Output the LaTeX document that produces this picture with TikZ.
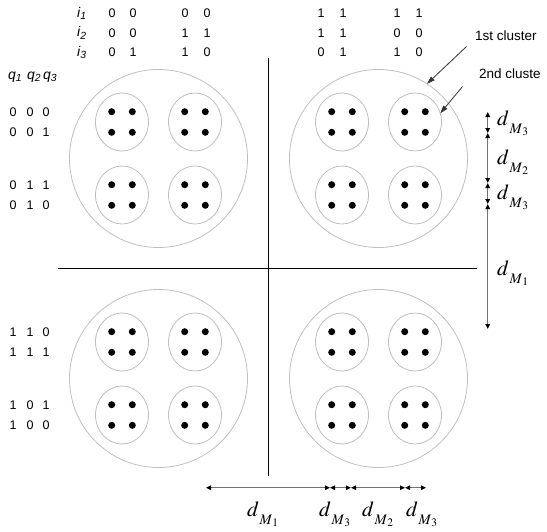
\documentclass[tikz,border=0pt]{standalone}
\usepackage{mathptmx}
\usepackage[no-math]{fontspec}
\setmainfont{Liberation Sans}
\usetikzlibrary{arrows.meta,shapes.geometric}
\newcommand\dlab[1]{$d$\kern0.5pt\raisebox{-8pt}{\fontsize{14.5}{15}\selectfont$M$}\kern0.2pt\raisebox{-10.5pt}{\fontsize{11.5}{12}\selectfont$#1$}}
\tikzset{
  bigc/.style={circle,draw=black!25,line width=0.8pt,minimum size=178pt,inner sep=0pt,outer sep=0pt},
  smallc/.style={ellipse,draw=black!25,line width=0.8pt,minimum width=53pt,minimum height=58pt,inner sep=0pt,outer sep=0pt},
  axis/.style={draw=black,line width=0.9pt},
  dimline/.style={draw=black!55,line width=1.3pt,{Triangle[length=5pt,width=4.5pt,color=black]}-{Triangle[length=5pt,width=4.5pt,color=black]}},
  callout/.style={draw=black!80,line width=0.8pt,-{Triangle[length=8pt,width=5pt]}},
  digit/.style={inner sep=0pt,font=\fontsize{12.5}{14}\selectfont},
  varlab/.style={inner sep=0pt,anchor=west,font=\fontsize{14}{16}\selectfont\itshape},
  dimlab/.style={inner sep=0pt,anchor=base west,font=\fontsize{21.5}{24}\selectfont},
  calltext/.style={inner sep=0pt,anchor=west,font=\fontsize{13.5}{16}\selectfont}
}
\begin{document}
\begin{tikzpicture}[x=1pt,y=-1pt]
\useasboundingbox (0,0) rectangle (547,531);
% clusters
\foreach \qx/\qy [count=\q] in {158.5/158.5, 378.5/158.5, 158.5/378.5, 378.5/378.5} {
  \node[bigc] (Q\q) at (\qx,\qy) {};
  \foreach \dx/\dy [count=\k] in {-36.5/-36.5, 36.5/-36.5, -36.5/36.5, 36.5/36.5} {
    \node[smallc] (Q\q-\k) at (\qx+\dx,\qy+\dy) {};
    \foreach \ex in {-10.3,10.3} {
      \foreach \ey in {-10.3,10.3} {
        \fill[black] (\qx+\dx+\ex,\qy+\dy+\ey) circle (3.5);
      }
    }
  }
}
% axes
\coordinate (ht) at (268,58);
\coordinate (hb) at (268,476);
\coordinate (vl) at (58,268);
\coordinate (vr) at (477,268);
\draw[axis] (ht) -- (hb);
\draw[axis] (vl) -- (vr);
% right dimension arrows
\coordinate (r0) at (487.7,112);
\coordinate (r1) at (487.7,133);
\coordinate (r2) at (487.7,183);
\coordinate (r3) at (487.7,204);
\coordinate (r4) at (487.7,329);
\draw[dimline] (r0) -- (r1);
\draw[dimline] (r1) -- (r2);
\draw[dimline] (r2) -- (r3);
\draw[dimline] (r3) -- (r4);
% bottom dimension arrows
\coordinate (b0) at (206,487.7);
\coordinate (b1) at (330,487.7);
\coordinate (b2) at (351,487.7);
\coordinate (b3) at (405,487.7);
\coordinate (b4) at (426,487.7);
\draw[dimline] (b0) -- (b1);
\draw[dimline] (b1) -- (b2);
\draw[dimline] (b2) -- (b3);
\draw[dimline] (b3) -- (b4);
% dimension labels
\node[dimlab] (lr1) at (497,125) {\dlab{3}};
\node[dimlab] (lr2) at (497,164) {\dlab{2}};
\node[dimlab] (lr3) at (497,199) {\dlab{3}};
\node[dimlab] (lr4) at (497,275) {\dlab{1}};
\node[dimlab] (lb1) at (247,516) {\dlab{1}};
\node[dimlab] (lb2) at (319,516) {\dlab{3}};
\node[dimlab] (lb3) at (362,516) {\dlab{2}};
\node[dimlab] (lb4) at (406,516) {\dlab{3}};
% top labels
\node[varlab] (i1) at (77,13.5) {i\textsubscript{1}};
\node[varlab] (i2) at (77,33) {i\textsubscript{2}};
\node[varlab] (i3) at (77,52.5) {i\textsubscript{3}};
\foreach \cx/\a/\b/\c [count=\n] in {112/0/0/0, 133/0/0/1, 185/0/1/1, 207/0/1/0, 321/1/1/0, 343/1/1/1, 397/1/0/1, 419/1/0/0} {
  \node[digit] (ta\n) at (\cx,13.5) {\a};
  \node[digit] (tb\n) at (\cx,33) {\b};
  \node[digit] (tc\n) at (\cx,52.5) {\c};
}
% left labels
\node[varlab] (q1) at (8,77) {q\textsubscript{1}};
\node[varlab] (q2) at (27,77) {q\textsubscript{2}};
\node[varlab] (q3) at (43,77) {q\textsubscript{3}};
\foreach \ry/\a/\b/\c [count=\n] in {112/0/0/0, 132/0/0/1, 185/0/1/1, 205/0/1/0, 332/1/1/0, 352/1/1/1, 405/1/0/1, 425/1/0/0} {
  \node[digit] (la\n) at (13,\ry) {\a};
  \node[digit] (lb\n) at (30,\ry) {\b};
  \node[digit] (lc\n) at (46,\ry) {\c};
}
% callouts
\node[calltext] (t1) at (475,36) {1st cluster};
\node[calltext] (t2) at (479,74) {2nd cluste};
\coordinate (c1) at (466.5,46.5);
\coordinate (c2) at (462.5,86.5);
\draw[callout] (c1) -- (Q2.57);
\draw[callout] (c2) -- (Q2-2.19);
\end{tikzpicture}
\end{document}
